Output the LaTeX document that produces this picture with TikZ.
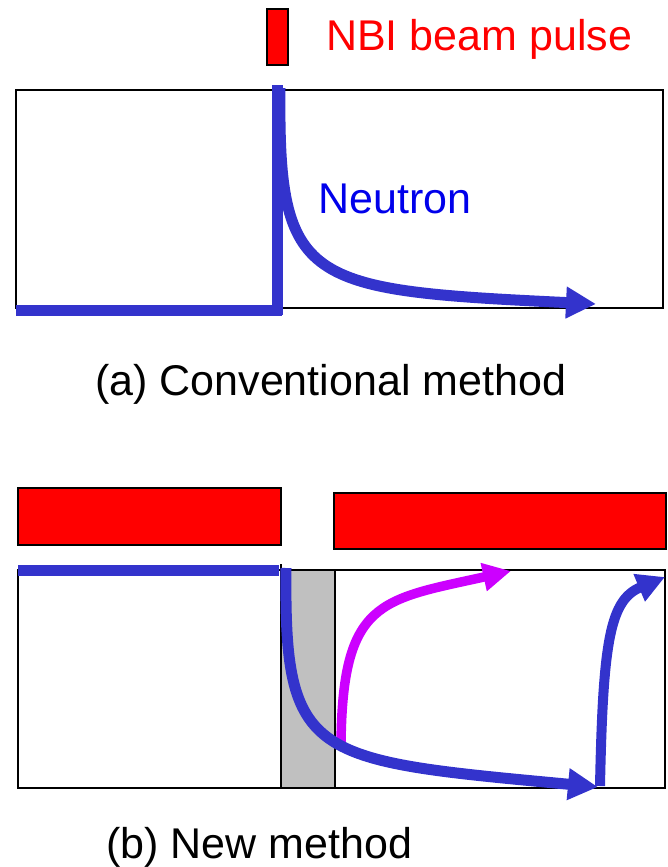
\documentclass[tikz,border=0pt]{standalone}
\usepackage{fontspec}
\setmainfont{Liberation Sans}
\usetikzlibrary{arrows.meta}
\definecolor{nblue}{RGB}{51,51,204}
\definecolor{nmag}{RGB}{204,0,255}
\definecolor{ngray}{RGB}{192,192,192}
\definecolor{tblue}{RGB}{0,0,235}
\begin{document}
\begin{tikzpicture}[x=1pt,y=-1pt,
  frame/.style={draw=black, line width=2.5pt},
  pulse/.style={draw=black, fill=red, line width=2.5pt},
  beam/.style={draw=nblue, line width=11pt},
  beamarrow/.style={draw=nblue, line width=11pt, -{Triangle[length=30pt,width=30pt]}},
  magarrow/.style={draw=nmag, line width=9.5pt, -{Triangle[length=28pt,width=27pt]}},
  lbl/.style={font=\fontsize{43}{50}\selectfont, inner sep=0pt, anchor=base west}]
\useasboundingbox (0,0) rectangle (667,867);
% ---------- (a) conventional ----------
\path[pulse] (267,9) rectangle (288,65);
\node[lbl, text=red] (nbi) at (326,51) {NBI beam pulse};
\draw[frame] (16,90) rectangle (663,308);
\coordinate (a0) at (16,310);
\coordinate (atop) at (277,85);
\coordinate (cs) at (280,88);
\coordinate (ce) at (596,304);
\draw[beam] (a0) -- (282,310);
\draw[beam] (atop) -- (277,315);
\draw[beamarrow] (cs) .. controls (278,285) and (304,290) .. (ce);
\node[lbl, text=tblue] (neutron) at (318,213) {Neutron};
\node[lbl] (capa) at (95,395) {(a) Conventional method};
% ---------- (b) new method ----------
\path[pulse] (18,488) rectangle (281,545);
\path[pulse] (334,493) rectangle (666,549);
\draw[frame] (18,570) rectangle (665,788);
\filldraw[fill=ngray, draw=black, line width=2.5pt] (281,570) rectangle (335,788);
\draw[black, line width=2pt] (281,564) -- (281,572);
\coordinate (b0) at (18,570);
\coordinate (b1) at (279,570);
\draw[beam] (b0) -- (b1);
\coordinate (bs) at (286,568);
\coordinate (be) at (598,787);
\coordinate (ms) at (341,746);
\coordinate (me) at (511,571);
\coordinate (us) at (600,786);
\coordinate (ue) at (665,577);
\draw[magarrow] (ms) .. controls (342,600) and (380,600) .. (me);
\draw[beamarrow] (bs) .. controls (284,760) and (310,760) .. (be);
\draw[beam, line width=10pt, -{Triangle[length=28pt,width=28pt]}] (us) .. controls (603,640) and (610,600) .. (ue);
\node[lbl] (capb) at (106,858) {(b) New method};
\end{tikzpicture}
\end{document}
